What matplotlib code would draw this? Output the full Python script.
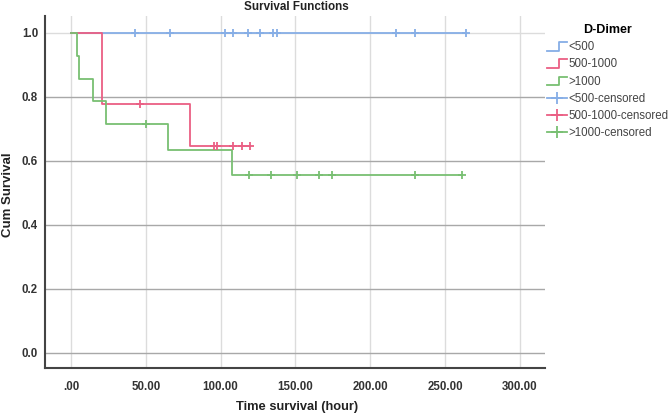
import numpy as np
import matplotlib
matplotlib.use("Agg")
import matplotlib.pyplot as plt
from matplotlib.lines import Line2D
from matplotlib.legend_handler import HandlerBase

plt.rcParams["font.family"] = ["Liberation Sans", "DejaVu Sans"]

# === Datos ===
grupos = ["<500", "500-1000", ">1000"]
colores = ["#86aee6", "#ea5f84", "#78bf72"]

# tiempos de cambio de la funcion de supervivencia y su valor
t_menor500 = [0, 263.7]
s_menor500 = [1.0, 1.0]
c_menor500 = [43, 66, 103, 108, 118, 126, 135, 138, 217, 230, 263.7]

t_500_1000 = [0, 21, 79.3, 119.5]
s_500_1000 = [1.0, 0.778, 0.648, 0.648]
c_500_1000 = [46, 95.5, 97.5, 108.5, 114, 119.5]

t_mayor1000 = [0, 4, 5.6, 14.9, 23.3, 65, 107.3, 261.5]
s_mayor1000 = [1.0, 0.929, 0.857, 0.786, 0.714, 0.635, 0.556, 0.556]
c_mayor1000 = [50, 119.3, 134, 151, 166, 174.4, 230, 261.5]

xticks = [0, 50, 100, 150, 200, 250, 300]
xtick_labels = [".00", "50.00", "100.00", "150.00", "200.00", "250.00", "300.00"]
yticks = [0.0, 0.2, 0.4, 0.6, 0.8, 1.0]

series = [
    (t_menor500, s_menor500, c_menor500),
    (t_500_1000, s_500_1000, c_500_1000),
    (t_mayor1000, s_mayor1000, c_mayor1000),
]


class StepHandler(HandlerBase):
    def create_artists(self, legend, orig_handle, xdescent, ydescent,
                       width, height, fontsize, trans):
        x0, x1 = -xdescent, -xdescent + width
        xm = x0 + 0.6 * width
        y0 = -ydescent + 0.0 * height
        y1 = -ydescent + 0.95 * height
        line = Line2D([x0, xm, xm, x1], [y0, y0, y1, y1],
                      color=orig_handle.get_color(), lw=1.3)
        line.set_transform(trans)
        return [line]


def supervivencia_en(t, s, tc):
    idx = np.searchsorted(t, tc, side="right") - 1
    return np.array(s)[idx]


fig = plt.figure(figsize=(6.72, 4.16), dpi=100)
ax = fig.add_axes([45 / 672, 1 - 368 / 416, 500 / 672, 352 / 416])

# Rejilla
for xt in xticks:
    ax.axvline(xt, color="#dcdcdc", lw=1, zorder=0)
for yt in yticks:
    ax.axhline(yt, color="#dcdcdc" if yt == 1.0 else "#a8a8a8", lw=1, zorder=0)

handles_linea = []
handles_cens = []
for (t, s, c), nombre, col in zip(series, grupos, colores):
    ln, = ax.step(t, s, where="post", color=col, lw=1.3, zorder=3)
    yc = supervivencia_en(t, s, c)
    ax.plot(c, yc, linestyle="none", marker="+", markersize=6,
            markeredgewidth=1.3, color=col, zorder=4)
    handles_linea.append(ln)
    handles_cens.append(Line2D([], [], color=col, lw=1.3, marker="+",
                               markersize=9, markeredgewidth=1.3))

ax.set_xlim(-17.3, 316.7)
ax.set_ylim(-0.047, 1.053)
ax.set_xticks(xticks)
ax.set_xticklabels(xtick_labels)
ax.set_yticks(yticks)
ax.set_yticklabels([f"{v:.1f}" for v in yticks])
ax.tick_params(length=0, labelsize=8.3, labelcolor="#333333")
ax.tick_params(axis="x", pad=9)
ax.tick_params(axis="y", pad=5)
for lab in ax.get_xticklabels() + ax.get_yticklabels():
    lab.set_fontweight("bold")

for lado in ["top", "right"]:
    ax.spines[lado].set_visible(False)
for lado in ["left", "bottom"]:
    ax.spines[lado].set_color("#444444")
    ax.spines[lado].set_linewidth(1.5)

fig.text(297 / 672, 1 - 407 / 416, "Time survival (hour)", ha="center",
         va="center", fontsize=9.3, fontweight="bold", color="#222222")
fig.text(8 / 672, 1 - 195 / 416, "Cum Survival", ha="center", va="center",
         rotation=90, fontsize=9.5, fontweight="bold", color="#222222")
fig.text(296 / 672, 1 - 7 / 416, "Survival Functions", ha="center",
         va="center", fontsize=8.4, fontweight="bold", color="#222222")

etiquetas = grupos + [g + "-censored" for g in grupos]
leg = fig.legend(handles_linea + handles_cens, etiquetas,
                 handler_map={h: StepHandler() for h in handles_linea},
                 loc="upper left", bbox_to_anchor=(547 / 672, 1 - 24 / 416),
                 frameon=False, fontsize=8.3, title="D-Dimer",
                 title_fontproperties={"weight": "bold", "size": 9},
                 handlelength=1.7, handleheight=0.8, handletextpad=0.15,
                 labelspacing=0.45, borderaxespad=0, borderpad=0)
for txt in leg.get_texts():
    txt.set_color("#444444")
leg._legend_box.align = "center"

fig.savefig("out.png", dpi=100)
